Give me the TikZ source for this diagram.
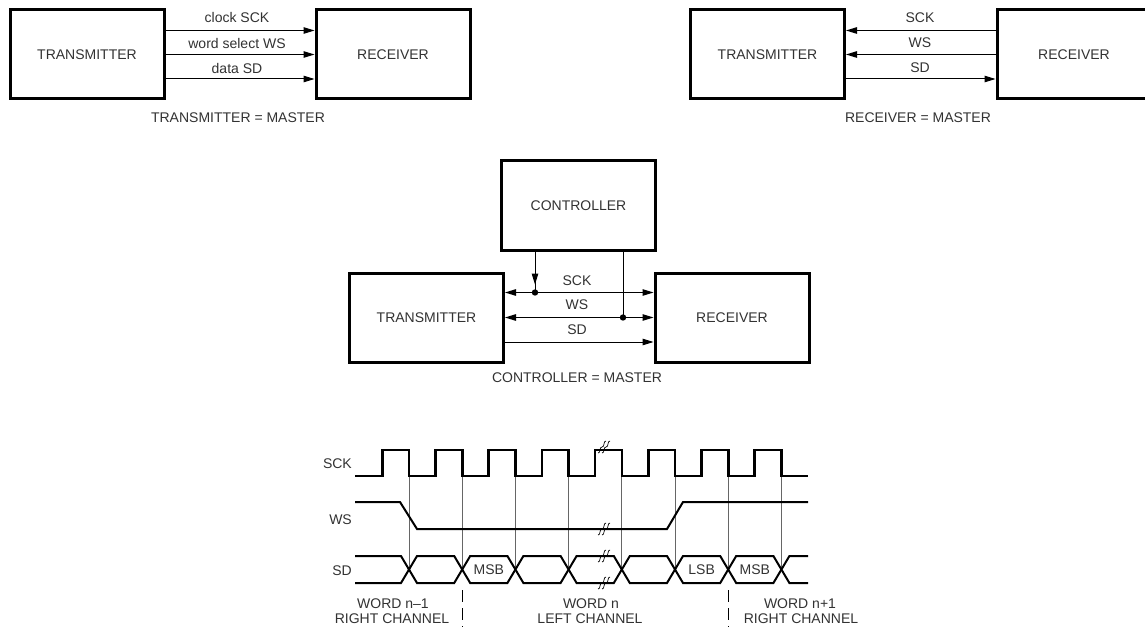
\documentclass[tikz,border=0pt]{standalone}
\usepackage{fontspec}
\setmainfont{Liberation Sans}
\usetikzlibrary{arrows.meta,calc}
\definecolor{txt}{RGB}{50,50,50}
\newcommand{\fs}{\fontsize{14}{16.8}\selectfont}
\tikzset{
  box/.style={draw,line width=3pt,minimum width=154pt,minimum height=89pt,inner sep=0pt,font=\fs,text=txt},
  lbl/.style={text=txt,font=\fs,inner sep=0pt},
  sig/.style={line width=1pt},
  tip/.style={-{Triangle[length=11pt,width=6.5pt]}},
  tips/.style={{Triangle[length=11pt,width=6.5pt]}-{Triangle[length=11pt,width=6.5pt]}},
  guide/.style={line width=0.8pt,black!60},
  wave/.style={line width=2pt,line join=miter},
  brk/.pic={
    \draw[line width=0.7pt] (-5,6) .. controls (-2,6) and (-4,0) .. (-1,0) .. controls (2,0) and (0,-6) .. (3,-6);
    \draw[line width=0.7pt] (-1,6) .. controls (2,6) and (0,0) .. (3,0) .. controls (6,0) and (4,-6) .. (7,-6);
  }
}
\begin{document}
\begin{tikzpicture}[x=1pt,y=-1pt]
\useasboundingbox (0,0) rectangle (1145,628);

% ---------- top left: transmitter = master
\node[box] (t1) at (87,54.5) {TRANSMITTER};
\node[box] (r1) at (393,54.5) {RECEIVER};
\draw[sig,tip] ([yshift=24pt]t1.east) -- ([yshift=24pt]r1.west);
\draw[sig,tip] (t1.east) -- (r1.west);
\draw[sig,tip] ([yshift=-24.5pt]t1.east) -- ([yshift=-24.5pt]r1.west);
\node[lbl] (l1a) at (237,18) {clock SCK};
\node[lbl] (l1b) at (237,43) {word select WS};
\node[lbl] (l1c) at (237,68) {data SD};
\node[lbl] (m1) at (238,118) {TRANSMITTER = MASTER};

% ---------- top right: receiver = master
\node[box] (t2) at (767.5,54.5) {TRANSMITTER};
\node[box] (r2) at (1074,54.5) {RECEIVER};
\draw[sig,tip] ([yshift=24pt]r2.west) -- ([yshift=24pt]t2.east);
\draw[sig,tip] (r2.west) -- (t2.east);
\draw[sig,tip] ([yshift=-24.5pt]t2.east) -- ([yshift=-24.5pt]r2.west);
\node[lbl] (l2a) at (920,18) {SCK};
\node[lbl] (l2b) at (920,43) {WS};
\node[lbl] (l2c) at (920,68) {SD};
\node[lbl] (m2) at (918,118) {RECEIVER = MASTER};

% ---------- middle: controller = master
\node[box,minimum height=90pt] (c) at (578.5,206) {CONTROLLER};
\node[box] (t3) at (426.5,317.5) {TRANSMITTER};
\node[box] (r3) at (732,317.5) {RECEIVER};
\draw[sig,tips] ([yshift=25pt]t3.east) -- ([yshift=25pt]r3.west);
\draw[sig,tips] (t3.east) -- (r3.west);
\draw[sig,tip] ([yshift=-24.5pt]t3.east) -- ([yshift=-24.5pt]r3.west);
\coordinate (d1) at (535,292.5);
\coordinate (d2) at (623,317.5);
\draw[sig] (c.south -| d1) -- (d1);
\draw[sig,tip] (c.south -| d1) -- ($(d1)+(0,-8)$);
\fill (d1) circle (3.2);
\draw[sig] (c.south -| d2) -- (d2);
\fill (d2) circle (3.2);
\node[lbl] (l3a) at (577,281) {SCK};
\node[lbl] (l3b) at (577,305) {WS};
\node[lbl] (l3c) at (577,330) {SD};
\node[lbl] (m3) at (577,378) {CONTROLLER = MASTER};

% ---------- timing diagram
\node[lbl,anchor=east] (nsck) at (352,464) {SCK};
\node[lbl,anchor=east] (nws) at (352,520) {WS};
\node[lbl,anchor=east] (nsd) at (352,571) {SD};

\foreach \x in {409,462.2,515.4,568.6,621.8,675,728.2,781.4}
  \draw[guide] (\x,476) -- (\x,569.5);

\draw[wave,line width=2.6pt] (355,476) -- (382.2,476) -- (382.2,450) -- (409,450) -- (409,476)
 -- (435.4,476) -- (435.4,450) -- (462.2,450) -- (462.2,476)
 -- (488.6,476) -- (488.6,450) -- (515.4,450) -- (515.4,476)
 -- (541.8,476) -- (541.8,450) -- (568.6,450) -- (568.6,476)
 -- (595,476) -- (595,450) -- (621.8,450) -- (621.8,476)
 -- (648.2,476) -- (648.2,450) -- (675,450) -- (675,476)
 -- (701.4,476) -- (701.4,450) -- (728.2,450) -- (728.2,476)
 -- (754.6,476) -- (754.6,450) -- (781.4,450) -- (781.4,476) -- (808,476);

\draw[wave] (355,502) -- (400,502) -- (417,529) -- (667,529) -- (683,502) -- (808,502);
\draw[wave,line width=2.8pt] (417,529) -- (603,529);

\draw[wave] (355,556) -- (401,556) -- (417,583) -- (454.2,583) -- (470.2,556) -- (507.4,556)
 -- (523.4,583) -- (560.6,583) -- (576.6,556) -- (613.8,556) -- (629.8,583) -- (667,583)
 -- (683,556) -- (720.2,556) -- (736.2,583) -- (773.4,583) -- (789.4,556) -- (808,556);
\draw[wave] (355,583) -- (401,583) -- (417,556) -- (454.2,556) -- (470.2,583) -- (507.4,583)
 -- (523.4,556) -- (560.6,556) -- (576.6,583) -- (613.8,583) -- (629.8,556) -- (667,556)
 -- (683,583) -- (720.2,583) -- (736.2,556) -- (773.4,556) -- (789.4,583) -- (808,583);

\pic at (603,447) {brk};
\pic at (603,529) {brk};
\pic at (603,556) {brk};
\pic at (603,583) {brk};

\node[lbl] (msb1) at (488.8,569.5) {MSB};
\node[lbl] (lsb) at (701.6,569.5) {LSB};
\node[lbl] (msb2) at (754.8,569.5) {MSB};

\draw[line width=0.8pt,dash pattern=on 12pt off 6pt] (462.2,590) -- (462.2,627);
\draw[line width=0.8pt,dash pattern=on 12pt off 6pt] (728.2,590) -- (728.2,627);

\node[lbl] (w1a) at (393,604) {WORD n–1};
\node[lbl] (w1b) at (392,619) {RIGHT CHANNEL};
\node[lbl] (w2a) at (591,604) {WORD n};
\node[lbl] (w2b) at (590,619) {LEFT CHANNEL};
\node[lbl] (w3a) at (800,604) {WORD n+1};
\node[lbl] (w3b) at (801,619) {RIGHT CHANNEL};
\end{tikzpicture}
\end{document}
